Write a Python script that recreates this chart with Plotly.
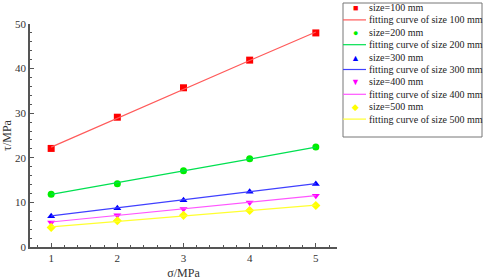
import plotly.graph_objects as go

sigma = [1, 2, 3, 4, 5]
sizes = ["100", "200", "300", "400", "500"]
tau_100 = [22.1, 29.1, 35.7, 41.9, 48.0]
tau_200 = [11.8, 14.2, 17.1, 19.8, 22.4]
tau_300 = [6.9, 8.7, 10.5, 12.4, 14.1]
tau_400 = [5.5, 7.1, 8.5, 10.0, 11.5]
tau_500 = [4.4, 5.9, 7.1, 8.2, 9.3]
fit_100 = [22.4, 28.9, 35.3, 41.8, 48.2]
fit_200 = [11.8, 14.4, 17.1, 19.7, 22.4]
fit_300 = [7.0, 8.8, 10.6, 12.4, 14.2]
fit_400 = [5.6, 7.1, 8.5, 10.0, 11.5]
fit_500 = [4.5, 5.7, 7.0, 8.2, 9.4]

series = [tau_100, tau_200, tau_300, tau_400, tau_500]
fits = [fit_100, fit_200, fit_300, fit_400, fit_500]
colors = ["#ff0000", "#00ee00", "#0000ff", "#ff00ff", "#ffff00"]
line_colors = ["#ff5a5a", "#00e050", "#4040ff", "#ff55ff", "#ffff30"]
symbols = ["square", "circle", "triangle-up", "triangle-down", "diamond"]
glyphs = ["■", "●", "▲", "▼", "◆"]

SERIF = "Liberation Serif, Times New Roman, serif"

W, H = 484, 280
L, R, T, B = 30, 147, 24, 33
pw, ph = W - L - R, H - T - B

def px(x):
    return (x - L) / pw

def py(y):
    return (H - B - y) / ph

fig = go.Figure()
for s, y, f, c, lc, sym in zip(sizes, series, fits, colors, line_colors, symbols):
    fig.add_trace(go.Scatter(x=sigma, y=y, mode="markers", name=f"size={s} mm",
                             marker=dict(color=c, symbol=sym, size=7), showlegend=False))
    fig.add_trace(go.Scatter(x=sigma, y=f, mode="lines", name=f"fitting curve of size {s} mm",
                             line=dict(color=lc, width=1.2), showlegend=False))

axis_common = dict(showgrid=False, zeroline=False, showline=True, linecolor="#555",
                   linewidth=1.5, ticks="inside", ticklen=4, tickcolor="#555", automargin=False,
                   tickfont=dict(family=SERIF, size=11, color="#333"),
                   minor=dict(ticks="inside", ticklen=2, tickcolor="#555"))

fig.update_xaxes(range=[0.68, 5.32], tickvals=sigma, **axis_common,
                 title=dict(text="σ/MPa", font=dict(family=SERIF, size=12, color="#333"), standoff=6))
fig.update_yaxes(range=[0, 50], dtick=10, **axis_common,
                 title=dict(text="τ/MPa", font=dict(family=SERIF, size=12, color="#333"), standoff=4))

# custom legend (compact, like the original)
shapes = [dict(type="rect", xref="paper", yref="paper",
               x0=px(343), x1=px(482), y0=py(137), y1=py(3),
               line=dict(color="#777", width=1), fillcolor="rgba(0,0,0,0)")]
annotations = []
y0, step = 7.5, 12.4
for i, (s, c, lc, g) in enumerate(zip(sizes, colors, line_colors, glyphs)):
    ym = y0 + 2 * i * step
    yl = ym + step
    annotations.append(dict(x=px(355), y=py(ym), xref="paper", yref="paper", text=g,
                            showarrow=False, font=dict(size=9, color=c), xanchor="center", yanchor="middle"))
    annotations.append(dict(x=px(367), y=py(ym), xref="paper", yref="paper", text=f"size={s} mm",
                            showarrow=False, font=dict(family=SERIF, size=10, color="#222"),
                            xanchor="left", yanchor="middle"))
    shapes.append(dict(type="line", xref="paper", yref="paper", x0=px(343), x1=px(366),
                       y0=py(yl), y1=py(yl), line=dict(color=lc, width=1.2)))
    annotations.append(dict(x=px(367), y=py(yl), xref="paper", yref="paper",
                            text=f"fitting curve of size {s} mm",
                            showarrow=False, font=dict(family=SERIF, size=10, color="#222"),
                            xanchor="left", yanchor="middle"))

fig.update_layout(width=W, height=H, margin=dict(l=L, r=R, t=T, b=B),
                  plot_bgcolor="white", paper_bgcolor="white", showlegend=False,
                  shapes=shapes, annotations=annotations)
fig.write_html("out.html", config={"displayModeBar": False},
               post_script="document.body.style.margin='0px';")
